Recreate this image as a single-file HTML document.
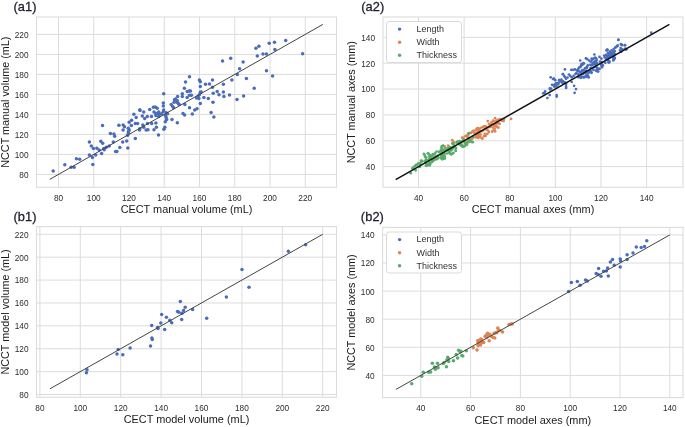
<!DOCTYPE html>
<html><head><meta charset="utf-8"><style>html,body{margin:0;padding:0;background:#fff;width:685px;height:427px;overflow:hidden;position:relative}</style></head>
<body><svg width="685" height="427" viewBox="0 0 685 427" style="position:absolute;left:0;top:0;filter:blur(0.3px)"><rect width="685" height="427" fill="#fff"/><g font-family="'Liberation Sans', sans-serif"><line x1="58.50" y1="17.0" x2="58.50" y2="187.3" stroke="#dcdcdc" stroke-width="1"/><line x1="93.75" y1="17.0" x2="93.75" y2="187.3" stroke="#dcdcdc" stroke-width="1"/><line x1="129.00" y1="17.0" x2="129.00" y2="187.3" stroke="#dcdcdc" stroke-width="1"/><line x1="164.25" y1="17.0" x2="164.25" y2="187.3" stroke="#dcdcdc" stroke-width="1"/><line x1="199.50" y1="17.0" x2="199.50" y2="187.3" stroke="#dcdcdc" stroke-width="1"/><line x1="234.75" y1="17.0" x2="234.75" y2="187.3" stroke="#dcdcdc" stroke-width="1"/><line x1="270.00" y1="17.0" x2="270.00" y2="187.3" stroke="#dcdcdc" stroke-width="1"/><line x1="305.25" y1="17.0" x2="305.25" y2="187.3" stroke="#dcdcdc" stroke-width="1"/><line x1="36.5" y1="174.40" x2="336.5" y2="174.40" stroke="#dcdcdc" stroke-width="1"/><line x1="36.5" y1="154.40" x2="336.5" y2="154.40" stroke="#dcdcdc" stroke-width="1"/><line x1="36.5" y1="134.40" x2="336.5" y2="134.40" stroke="#dcdcdc" stroke-width="1"/><line x1="36.5" y1="114.40" x2="336.5" y2="114.40" stroke="#dcdcdc" stroke-width="1"/><line x1="36.5" y1="94.40" x2="336.5" y2="94.40" stroke="#dcdcdc" stroke-width="1"/><line x1="36.5" y1="74.40" x2="336.5" y2="74.40" stroke="#dcdcdc" stroke-width="1"/><line x1="36.5" y1="54.40" x2="336.5" y2="54.40" stroke="#dcdcdc" stroke-width="1"/><line x1="36.5" y1="34.40" x2="336.5" y2="34.40" stroke="#dcdcdc" stroke-width="1"/><rect x="36.5" y="17.0" width="300.00" height="170.30" fill="none" stroke="#dcdcdc" stroke-width="1.1"/><circle cx="53.2" cy="171.1" r="1.75" fill="#4a6cbc"/><circle cx="64.8" cy="164.7" r="1.75" fill="#4a6cbc"/><circle cx="71.1" cy="167.2" r="1.75" fill="#4a6cbc"/><circle cx="74.1" cy="167.3" r="1.75" fill="#4a6cbc"/><circle cx="76.4" cy="158.7" r="1.75" fill="#4a6cbc"/><circle cx="79.7" cy="159.3" r="1.75" fill="#4a6cbc"/><circle cx="89.4" cy="142.0" r="1.75" fill="#4a6cbc"/><circle cx="91.3" cy="145.9" r="1.75" fill="#4a6cbc"/><circle cx="93.4" cy="148.5" r="1.75" fill="#4a6cbc"/><circle cx="89.4" cy="154.9" r="1.75" fill="#4a6cbc"/><circle cx="92.4" cy="157.6" r="1.75" fill="#4a6cbc"/><circle cx="92.8" cy="164.6" r="1.75" fill="#4a6cbc"/><circle cx="95.7" cy="155.0" r="1.75" fill="#4a6cbc"/><circle cx="96.9" cy="148.2" r="1.75" fill="#4a6cbc"/><circle cx="99.2" cy="150.0" r="1.75" fill="#4a6cbc"/><circle cx="101.6" cy="153.5" r="1.75" fill="#4a6cbc"/><circle cx="100.8" cy="141.2" r="1.75" fill="#4a6cbc"/><circle cx="102.7" cy="143.3" r="1.75" fill="#4a6cbc"/><circle cx="103.9" cy="148.4" r="1.75" fill="#4a6cbc"/><circle cx="106.3" cy="147.3" r="1.75" fill="#4a6cbc"/><circle cx="109.2" cy="146.1" r="1.75" fill="#4a6cbc"/><circle cx="113.3" cy="142.1" r="1.75" fill="#4a6cbc"/><circle cx="115.6" cy="151.4" r="1.75" fill="#4a6cbc"/><circle cx="102.5" cy="125.4" r="1.75" fill="#4a6cbc"/><circle cx="110.4" cy="133.4" r="1.75" fill="#4a6cbc"/><circle cx="113.9" cy="134.0" r="1.75" fill="#4a6cbc"/><circle cx="114.7" cy="136.3" r="1.75" fill="#4a6cbc"/><circle cx="119.8" cy="147.5" r="1.75" fill="#4a6cbc"/><circle cx="122.7" cy="141.9" r="1.75" fill="#4a6cbc"/><circle cx="126.7" cy="140.9" r="1.75" fill="#4a6cbc"/><circle cx="127.8" cy="148.0" r="1.75" fill="#4a6cbc"/><circle cx="118.9" cy="125.3" r="1.75" fill="#4a6cbc"/><circle cx="123.1" cy="125.0" r="1.75" fill="#4a6cbc"/><circle cx="124.5" cy="126.7" r="1.75" fill="#4a6cbc"/><circle cx="123.1" cy="130.0" r="1.75" fill="#4a6cbc"/><circle cx="128.3" cy="128.3" r="1.75" fill="#4a6cbc"/><circle cx="129.2" cy="130.1" r="1.75" fill="#4a6cbc"/><circle cx="128.5" cy="131.6" r="1.75" fill="#4a6cbc"/><circle cx="128.3" cy="133.0" r="1.75" fill="#4a6cbc"/><circle cx="127.6" cy="135.3" r="1.75" fill="#4a6cbc"/><circle cx="129.2" cy="122.2" r="1.75" fill="#4a6cbc"/><circle cx="131.6" cy="120.3" r="1.75" fill="#4a6cbc"/><circle cx="131.4" cy="125.5" r="1.75" fill="#4a6cbc"/><circle cx="133.9" cy="114.2" r="1.75" fill="#4a6cbc"/><circle cx="136.2" cy="117.5" r="1.75" fill="#4a6cbc"/><circle cx="135.3" cy="123.6" r="1.75" fill="#4a6cbc"/><circle cx="137.6" cy="123.6" r="1.75" fill="#4a6cbc"/><circle cx="135.3" cy="138.6" r="1.75" fill="#4a6cbc"/><circle cx="139.8" cy="128.7" r="1.75" fill="#4a6cbc"/><circle cx="139.5" cy="130.1" r="1.75" fill="#4a6cbc"/><circle cx="140.0" cy="110.5" r="1.75" fill="#4a6cbc"/><circle cx="143.7" cy="111.9" r="1.75" fill="#4a6cbc"/><circle cx="142.3" cy="116.1" r="1.75" fill="#4a6cbc"/><circle cx="144.7" cy="118.4" r="1.75" fill="#4a6cbc"/><circle cx="147.3" cy="116.6" r="1.75" fill="#4a6cbc"/><circle cx="142.8" cy="125.0" r="1.75" fill="#4a6cbc"/><circle cx="143.7" cy="127.3" r="1.75" fill="#4a6cbc"/><circle cx="147.5" cy="123.6" r="1.75" fill="#4a6cbc"/><circle cx="146.1" cy="130.1" r="1.75" fill="#4a6cbc"/><circle cx="148.0" cy="129.7" r="1.75" fill="#4a6cbc"/><circle cx="151.5" cy="116.6" r="1.75" fill="#4a6cbc"/><circle cx="151.7" cy="123.6" r="1.75" fill="#4a6cbc"/><circle cx="154.0" cy="111.9" r="1.75" fill="#4a6cbc"/><circle cx="155.9" cy="113.7" r="1.75" fill="#4a6cbc"/><circle cx="157.3" cy="113.3" r="1.75" fill="#4a6cbc"/><circle cx="158.7" cy="111.9" r="1.75" fill="#4a6cbc"/><circle cx="159.7" cy="114.2" r="1.75" fill="#4a6cbc"/><circle cx="161.5" cy="113.7" r="1.75" fill="#4a6cbc"/><circle cx="163.4" cy="111.4" r="1.75" fill="#4a6cbc"/><circle cx="165.3" cy="115.2" r="1.75" fill="#4a6cbc"/><circle cx="166.2" cy="112.8" r="1.75" fill="#4a6cbc"/><circle cx="167.6" cy="113.7" r="1.75" fill="#4a6cbc"/><circle cx="155.9" cy="115.6" r="1.75" fill="#4a6cbc"/><circle cx="158.7" cy="116.6" r="1.75" fill="#4a6cbc"/><circle cx="166.2" cy="117.5" r="1.75" fill="#4a6cbc"/><circle cx="166.7" cy="119.4" r="1.75" fill="#4a6cbc"/><circle cx="165.3" cy="121.7" r="1.75" fill="#4a6cbc"/><circle cx="155.9" cy="123.1" r="1.75" fill="#4a6cbc"/><circle cx="156.4" cy="127.3" r="1.75" fill="#4a6cbc"/><circle cx="154.0" cy="129.7" r="1.75" fill="#4a6cbc"/><circle cx="164.8" cy="127.3" r="1.75" fill="#4a6cbc"/><circle cx="163.9" cy="129.2" r="1.75" fill="#4a6cbc"/><circle cx="158.5" cy="135.1" r="1.75" fill="#4a6cbc"/><circle cx="104.2" cy="149.7" r="1.75" fill="#4a6cbc"/><circle cx="116.9" cy="151.6" r="1.75" fill="#4a6cbc"/><circle cx="163.7" cy="93.7" r="1.75" fill="#4a6cbc"/><circle cx="163.3" cy="103.1" r="1.75" fill="#4a6cbc"/><circle cx="163.3" cy="105.9" r="1.75" fill="#4a6cbc"/><circle cx="163.7" cy="110.1" r="1.75" fill="#4a6cbc"/><circle cx="172.0" cy="119.5" r="1.75" fill="#4a6cbc"/><circle cx="177.3" cy="122.8" r="1.75" fill="#4a6cbc"/><circle cx="171.2" cy="104.5" r="1.75" fill="#4a6cbc"/><circle cx="172.7" cy="106.4" r="1.75" fill="#4a6cbc"/><circle cx="173.6" cy="107.8" r="1.75" fill="#4a6cbc"/><circle cx="174.5" cy="99.8" r="1.75" fill="#4a6cbc"/><circle cx="175.5" cy="98.9" r="1.75" fill="#4a6cbc"/><circle cx="177.3" cy="100.8" r="1.75" fill="#4a6cbc"/><circle cx="176.9" cy="102.2" r="1.75" fill="#4a6cbc"/><circle cx="178.3" cy="103.6" r="1.75" fill="#4a6cbc"/><circle cx="179.2" cy="104.5" r="1.75" fill="#4a6cbc"/><circle cx="174.1" cy="102.2" r="1.75" fill="#4a6cbc"/><circle cx="177.6" cy="96.6" r="1.75" fill="#4a6cbc"/><circle cx="182.3" cy="93.7" r="1.75" fill="#4a6cbc"/><circle cx="182.3" cy="96.6" r="1.75" fill="#4a6cbc"/><circle cx="184.8" cy="104.5" r="1.75" fill="#4a6cbc"/><circle cx="183.0" cy="113.4" r="1.75" fill="#4a6cbc"/><circle cx="184.6" cy="115.1" r="1.75" fill="#4a6cbc"/><circle cx="187.2" cy="91.4" r="1.75" fill="#4a6cbc"/><circle cx="189.1" cy="90.9" r="1.75" fill="#4a6cbc"/><circle cx="190.5" cy="90.9" r="1.75" fill="#4a6cbc"/><circle cx="187.2" cy="97.5" r="1.75" fill="#4a6cbc"/><circle cx="189.5" cy="95.2" r="1.75" fill="#4a6cbc"/><circle cx="191.4" cy="95.2" r="1.75" fill="#4a6cbc"/><circle cx="189.5" cy="107.8" r="1.75" fill="#4a6cbc"/><circle cx="192.3" cy="113.9" r="1.75" fill="#4a6cbc"/><circle cx="194.7" cy="110.1" r="1.75" fill="#4a6cbc"/><circle cx="197.0" cy="108.7" r="1.75" fill="#4a6cbc"/><circle cx="196.6" cy="98.0" r="1.75" fill="#4a6cbc"/><circle cx="198.9" cy="98.4" r="1.75" fill="#4a6cbc"/><circle cx="198.0" cy="96.6" r="1.75" fill="#4a6cbc"/><circle cx="199.4" cy="94.7" r="1.75" fill="#4a6cbc"/><circle cx="200.3" cy="92.3" r="1.75" fill="#4a6cbc"/><circle cx="201.2" cy="91.9" r="1.75" fill="#4a6cbc"/><circle cx="200.3" cy="103.6" r="1.75" fill="#4a6cbc"/><circle cx="203.9" cy="97.5" r="1.75" fill="#4a6cbc"/><circle cx="208.3" cy="98.4" r="1.75" fill="#4a6cbc"/><circle cx="213.0" cy="102.2" r="1.75" fill="#4a6cbc"/><circle cx="213.2" cy="93.3" r="1.75" fill="#4a6cbc"/><circle cx="217.2" cy="91.4" r="1.75" fill="#4a6cbc"/><circle cx="219.0" cy="94.7" r="1.75" fill="#4a6cbc"/><circle cx="211.1" cy="112.5" r="1.75" fill="#4a6cbc"/><circle cx="213.9" cy="117.0" r="1.75" fill="#4a6cbc"/><circle cx="189.5" cy="76.7" r="1.75" fill="#4a6cbc"/><circle cx="185.5" cy="82.0" r="1.75" fill="#4a6cbc"/><circle cx="184.4" cy="88.3" r="1.75" fill="#4a6cbc"/><circle cx="199.4" cy="80.1" r="1.75" fill="#4a6cbc"/><circle cx="200.3" cy="81.7" r="1.75" fill="#4a6cbc"/><circle cx="200.3" cy="86.4" r="1.75" fill="#4a6cbc"/><circle cx="205.5" cy="84.3" r="1.75" fill="#4a6cbc"/><circle cx="209.5" cy="83.9" r="1.75" fill="#4a6cbc"/><circle cx="212.5" cy="80.1" r="1.75" fill="#4a6cbc"/><circle cx="212.5" cy="87.3" r="1.75" fill="#4a6cbc"/><circle cx="222.5" cy="61.1" r="1.75" fill="#4a6cbc"/><circle cx="243.1" cy="62.1" r="1.75" fill="#4a6cbc"/><circle cx="239.6" cy="68.7" r="1.75" fill="#4a6cbc"/><circle cx="237.3" cy="74.5" r="1.75" fill="#4a6cbc"/><circle cx="231.9" cy="80.0" r="1.75" fill="#4a6cbc"/><circle cx="246.4" cy="78.6" r="1.75" fill="#4a6cbc"/><circle cx="223.4" cy="84.2" r="1.75" fill="#4a6cbc"/><circle cx="266.5" cy="70.8" r="1.75" fill="#4a6cbc"/><circle cx="272.6" cy="76.1" r="1.75" fill="#4a6cbc"/><circle cx="254.2" cy="88.3" r="1.75" fill="#4a6cbc"/><circle cx="223.4" cy="91.9" r="1.75" fill="#4a6cbc"/><circle cx="223.9" cy="96.4" r="1.75" fill="#4a6cbc"/><circle cx="229.5" cy="95.1" r="1.75" fill="#4a6cbc"/><circle cx="243.6" cy="96.1" r="1.75" fill="#4a6cbc"/><circle cx="237.0" cy="99.6" r="1.75" fill="#4a6cbc"/><circle cx="258.9" cy="46.2" r="1.75" fill="#4a6cbc"/><circle cx="255.9" cy="48.3" r="1.75" fill="#4a6cbc"/><circle cx="257.3" cy="56.1" r="1.75" fill="#4a6cbc"/><circle cx="263.0" cy="54.0" r="1.75" fill="#4a6cbc"/><circle cx="266.5" cy="54.0" r="1.75" fill="#4a6cbc"/><circle cx="269.2" cy="43.2" r="1.75" fill="#4a6cbc"/><circle cx="274.5" cy="42.2" r="1.75" fill="#4a6cbc"/><circle cx="274.9" cy="49.5" r="1.75" fill="#4a6cbc"/><circle cx="285.7" cy="40.6" r="1.75" fill="#4a6cbc"/><circle cx="302.6" cy="53.7" r="1.75" fill="#4a6cbc"/><circle cx="230.7" cy="58.3" r="1.75" fill="#4a6cbc"/><circle cx="139.8" cy="109.7" r="1.75" fill="#4a6cbc"/><circle cx="149.7" cy="109.4" r="1.75" fill="#4a6cbc"/><circle cx="153.4" cy="107.3" r="1.75" fill="#4a6cbc"/><circle cx="155.3" cy="106.9" r="1.75" fill="#4a6cbc"/><circle cx="157.2" cy="108.3" r="1.75" fill="#4a6cbc"/><line x1="49.69" y1="179.40" x2="322.88" y2="24.40" stroke="#444" stroke-width="1.0"/><text transform="translate(58.50 201.00) scale(0.9 1)" text-anchor="middle" font-size="9.2" fill="#2c2c2c">80</text><text transform="translate(93.75 201.00) scale(0.9 1)" text-anchor="middle" font-size="9.2" fill="#2c2c2c">100</text><text transform="translate(129.00 201.00) scale(0.9 1)" text-anchor="middle" font-size="9.2" fill="#2c2c2c">120</text><text transform="translate(164.25 201.00) scale(0.9 1)" text-anchor="middle" font-size="9.2" fill="#2c2c2c">140</text><text transform="translate(199.50 201.00) scale(0.9 1)" text-anchor="middle" font-size="9.2" fill="#2c2c2c">160</text><text transform="translate(234.75 201.00) scale(0.9 1)" text-anchor="middle" font-size="9.2" fill="#2c2c2c">180</text><text transform="translate(270.00 201.00) scale(0.9 1)" text-anchor="middle" font-size="9.2" fill="#2c2c2c">200</text><text transform="translate(305.25 201.00) scale(0.9 1)" text-anchor="middle" font-size="9.2" fill="#2c2c2c">220</text><text transform="translate(28.50 177.80) scale(0.9 1)" text-anchor="end" font-size="9.2" fill="#2c2c2c">80</text><text transform="translate(28.50 157.80) scale(0.9 1)" text-anchor="end" font-size="9.2" fill="#2c2c2c">100</text><text transform="translate(28.50 137.80) scale(0.9 1)" text-anchor="end" font-size="9.2" fill="#2c2c2c">120</text><text transform="translate(28.50 117.80) scale(0.9 1)" text-anchor="end" font-size="9.2" fill="#2c2c2c">140</text><text transform="translate(28.50 97.80) scale(0.9 1)" text-anchor="end" font-size="9.2" fill="#2c2c2c">160</text><text transform="translate(28.50 77.80) scale(0.9 1)" text-anchor="end" font-size="9.2" fill="#2c2c2c">180</text><text transform="translate(28.50 57.80) scale(0.9 1)" text-anchor="end" font-size="9.2" fill="#2c2c2c">200</text><text transform="translate(28.50 37.80) scale(0.9 1)" text-anchor="end" font-size="9.2" fill="#2c2c2c">220</text><text x="186.50" y="213.30" text-anchor="middle" font-size="10.9" fill="#1a1a1a">CECT manual volume (mL)</text><text transform="translate(8.50,102.15) rotate(-90)" text-anchor="middle" font-size="10.8" fill="#1a1a1a">NCCT manual volume (mL)</text><text x="13.5" y="10.6" font-size="12.8" letter-spacing="0.1" fill="#1e1e2e" stroke="#1e1e2e" stroke-width="0.3">(a1)</text></g><g font-family="'Liberation Sans', sans-serif"><line x1="418.50" y1="17.0" x2="418.50" y2="187.3" stroke="#dcdcdc" stroke-width="1"/><line x1="464.12" y1="17.0" x2="464.12" y2="187.3" stroke="#dcdcdc" stroke-width="1"/><line x1="509.74" y1="17.0" x2="509.74" y2="187.3" stroke="#dcdcdc" stroke-width="1"/><line x1="555.36" y1="17.0" x2="555.36" y2="187.3" stroke="#dcdcdc" stroke-width="1"/><line x1="600.98" y1="17.0" x2="600.98" y2="187.3" stroke="#dcdcdc" stroke-width="1"/><line x1="646.60" y1="17.0" x2="646.60" y2="187.3" stroke="#dcdcdc" stroke-width="1"/><line x1="383.0" y1="166.60" x2="683.0" y2="166.60" stroke="#dcdcdc" stroke-width="1"/><line x1="383.0" y1="140.75" x2="683.0" y2="140.75" stroke="#dcdcdc" stroke-width="1"/><line x1="383.0" y1="114.90" x2="683.0" y2="114.90" stroke="#dcdcdc" stroke-width="1"/><line x1="383.0" y1="89.05" x2="683.0" y2="89.05" stroke="#dcdcdc" stroke-width="1"/><line x1="383.0" y1="63.20" x2="683.0" y2="63.20" stroke="#dcdcdc" stroke-width="1"/><line x1="383.0" y1="37.35" x2="683.0" y2="37.35" stroke="#dcdcdc" stroke-width="1"/><rect x="383.0" y="17.0" width="300.00" height="170.30" fill="none" stroke="#dcdcdc" stroke-width="1.1"/><circle cx="543.2" cy="93.3" r="1.35" fill="#4a6cbc"/><circle cx="544.6" cy="92.8" r="1.35" fill="#4a6cbc"/><circle cx="547.4" cy="98.0" r="1.35" fill="#4a6cbc"/><circle cx="549.7" cy="95.1" r="1.35" fill="#4a6cbc"/><circle cx="556.7" cy="96.6" r="1.35" fill="#4a6cbc"/><circle cx="550.2" cy="89.5" r="1.35" fill="#4a6cbc"/><circle cx="551.1" cy="88.6" r="1.35" fill="#4a6cbc"/><circle cx="550.7" cy="77.3" r="1.35" fill="#4a6cbc"/><circle cx="553.9" cy="78.7" r="1.35" fill="#4a6cbc"/><circle cx="555.3" cy="80.2" r="1.35" fill="#4a6cbc"/><circle cx="552.1" cy="84.8" r="1.35" fill="#4a6cbc"/><circle cx="553.5" cy="85.3" r="1.35" fill="#4a6cbc"/><circle cx="554.9" cy="84.4" r="1.35" fill="#4a6cbc"/><circle cx="554.4" cy="86.7" r="1.35" fill="#4a6cbc"/><circle cx="556.3" cy="86.2" r="1.35" fill="#4a6cbc"/><circle cx="555.8" cy="83.4" r="1.35" fill="#4a6cbc"/><circle cx="557.2" cy="83.0" r="1.35" fill="#4a6cbc"/><circle cx="558.2" cy="84.4" r="1.35" fill="#4a6cbc"/><circle cx="559.1" cy="82.5" r="1.35" fill="#4a6cbc"/><circle cx="560.5" cy="81.1" r="1.35" fill="#4a6cbc"/><circle cx="559.6" cy="80.2" r="1.35" fill="#4a6cbc"/><circle cx="561.4" cy="79.7" r="1.35" fill="#4a6cbc"/><circle cx="561.9" cy="82.5" r="1.35" fill="#4a6cbc"/><circle cx="562.8" cy="81.1" r="1.35" fill="#4a6cbc"/><circle cx="563.3" cy="83.0" r="1.35" fill="#4a6cbc"/><circle cx="564.2" cy="82.0" r="1.35" fill="#4a6cbc"/><circle cx="562.8" cy="74.1" r="1.35" fill="#4a6cbc"/><circle cx="564.2" cy="75.9" r="1.35" fill="#4a6cbc"/><circle cx="565.2" cy="77.3" r="1.35" fill="#4a6cbc"/><circle cx="566.1" cy="78.7" r="1.35" fill="#4a6cbc"/><circle cx="564.9" cy="69.4" r="1.35" fill="#4a6cbc"/><circle cx="566.1" cy="83.9" r="1.35" fill="#4a6cbc"/><circle cx="566.1" cy="87.9" r="1.35" fill="#4a6cbc"/><circle cx="568.9" cy="74.5" r="1.35" fill="#4a6cbc"/><circle cx="570.3" cy="75.9" r="1.35" fill="#4a6cbc"/><circle cx="571.3" cy="69.8" r="1.35" fill="#4a6cbc"/><circle cx="573.1" cy="69.8" r="1.35" fill="#4a6cbc"/><circle cx="575.0" cy="69.4" r="1.35" fill="#4a6cbc"/><circle cx="571.7" cy="82.0" r="1.35" fill="#4a6cbc"/><circle cx="574.1" cy="85.8" r="1.35" fill="#4a6cbc"/><circle cx="576.0" cy="89.1" r="1.35" fill="#4a6cbc"/><circle cx="574.6" cy="92.8" r="1.35" fill="#4a6cbc"/><circle cx="571.7" cy="77.3" r="1.35" fill="#4a6cbc"/><circle cx="573.6" cy="75.9" r="1.35" fill="#4a6cbc"/><circle cx="575.5" cy="74.1" r="1.35" fill="#4a6cbc"/><circle cx="576.4" cy="73.1" r="1.35" fill="#4a6cbc"/><circle cx="576.9" cy="70.3" r="1.35" fill="#4a6cbc"/><circle cx="578.3" cy="68.9" r="1.35" fill="#4a6cbc"/><circle cx="579.2" cy="67.5" r="1.35" fill="#4a6cbc"/><circle cx="580.6" cy="66.6" r="1.35" fill="#4a6cbc"/><circle cx="581.6" cy="65.2" r="1.35" fill="#4a6cbc"/><circle cx="583.0" cy="64.2" r="1.35" fill="#4a6cbc"/><circle cx="583.9" cy="63.3" r="1.35" fill="#4a6cbc"/><circle cx="580.2" cy="60.5" r="1.35" fill="#4a6cbc"/><circle cx="578.3" cy="76.9" r="1.35" fill="#4a6cbc"/><circle cx="580.2" cy="77.3" r="1.35" fill="#4a6cbc"/><circle cx="582.0" cy="76.9" r="1.35" fill="#4a6cbc"/><circle cx="583.9" cy="77.3" r="1.35" fill="#4a6cbc"/><circle cx="585.8" cy="76.9" r="1.35" fill="#4a6cbc"/><circle cx="586.7" cy="75.5" r="1.35" fill="#4a6cbc"/><circle cx="578.3" cy="74.1" r="1.35" fill="#4a6cbc"/><circle cx="580.2" cy="72.2" r="1.35" fill="#4a6cbc"/><circle cx="582.0" cy="71.2" r="1.35" fill="#4a6cbc"/><circle cx="583.9" cy="70.3" r="1.35" fill="#4a6cbc"/><circle cx="584.9" cy="68.4" r="1.35" fill="#4a6cbc"/><circle cx="586.3" cy="67.5" r="1.35" fill="#4a6cbc"/><circle cx="587.2" cy="66.6" r="1.35" fill="#4a6cbc"/><circle cx="581.1" cy="74.5" r="1.35" fill="#4a6cbc"/><circle cx="583.0" cy="74.1" r="1.35" fill="#4a6cbc"/><circle cx="584.9" cy="73.1" r="1.35" fill="#4a6cbc"/><circle cx="586.7" cy="72.2" r="1.35" fill="#4a6cbc"/><circle cx="585.9" cy="58.3" r="1.35" fill="#4a6cbc"/><circle cx="594.4" cy="54.5" r="1.35" fill="#4a6cbc"/><circle cx="587.8" cy="65.3" r="1.35" fill="#4a6cbc"/><circle cx="586.9" cy="68.1" r="1.35" fill="#4a6cbc"/><circle cx="585.9" cy="70.9" r="1.35" fill="#4a6cbc"/><circle cx="588.7" cy="72.8" r="1.35" fill="#4a6cbc"/><circle cx="587.8" cy="75.6" r="1.35" fill="#4a6cbc"/><circle cx="588.7" cy="77.5" r="1.35" fill="#4a6cbc"/><circle cx="590.6" cy="61.6" r="1.35" fill="#4a6cbc"/><circle cx="592.0" cy="60.1" r="1.35" fill="#4a6cbc"/><circle cx="593.4" cy="58.7" r="1.35" fill="#4a6cbc"/><circle cx="594.8" cy="57.8" r="1.35" fill="#4a6cbc"/><circle cx="596.2" cy="58.3" r="1.35" fill="#4a6cbc"/><circle cx="592.5" cy="63.0" r="1.35" fill="#4a6cbc"/><circle cx="593.9" cy="62.0" r="1.35" fill="#4a6cbc"/><circle cx="595.3" cy="61.1" r="1.35" fill="#4a6cbc"/><circle cx="596.7" cy="60.1" r="1.35" fill="#4a6cbc"/><circle cx="591.6" cy="65.3" r="1.35" fill="#4a6cbc"/><circle cx="593.0" cy="64.4" r="1.35" fill="#4a6cbc"/><circle cx="594.4" cy="63.9" r="1.35" fill="#4a6cbc"/><circle cx="595.8" cy="63.4" r="1.35" fill="#4a6cbc"/><circle cx="597.2" cy="63.0" r="1.35" fill="#4a6cbc"/><circle cx="590.6" cy="68.1" r="1.35" fill="#4a6cbc"/><circle cx="592.5" cy="68.1" r="1.35" fill="#4a6cbc"/><circle cx="594.4" cy="67.2" r="1.35" fill="#4a6cbc"/><circle cx="596.2" cy="66.7" r="1.35" fill="#4a6cbc"/><circle cx="597.2" cy="68.1" r="1.35" fill="#4a6cbc"/><circle cx="590.6" cy="70.9" r="1.35" fill="#4a6cbc"/><circle cx="593.4" cy="70.0" r="1.35" fill="#4a6cbc"/><circle cx="595.8" cy="70.5" r="1.35" fill="#4a6cbc"/><circle cx="597.2" cy="70.0" r="1.35" fill="#4a6cbc"/><circle cx="591.6" cy="72.8" r="1.35" fill="#4a6cbc"/><circle cx="599.5" cy="56.9" r="1.35" fill="#4a6cbc"/><circle cx="601.4" cy="58.7" r="1.35" fill="#4a6cbc"/><circle cx="600.0" cy="61.6" r="1.35" fill="#4a6cbc"/><circle cx="601.9" cy="62.5" r="1.35" fill="#4a6cbc"/><circle cx="602.8" cy="65.3" r="1.35" fill="#4a6cbc"/><circle cx="601.4" cy="65.8" r="1.35" fill="#4a6cbc"/><circle cx="604.2" cy="55.5" r="1.35" fill="#4a6cbc"/><circle cx="604.7" cy="57.3" r="1.35" fill="#4a6cbc"/><circle cx="606.1" cy="59.2" r="1.35" fill="#4a6cbc"/><circle cx="608.0" cy="60.6" r="1.35" fill="#4a6cbc"/><circle cx="609.4" cy="62.0" r="1.35" fill="#4a6cbc"/><circle cx="607.0" cy="55.9" r="1.35" fill="#4a6cbc"/><circle cx="608.9" cy="55.0" r="1.35" fill="#4a6cbc"/><circle cx="610.3" cy="54.1" r="1.35" fill="#4a6cbc"/><circle cx="611.7" cy="53.1" r="1.35" fill="#4a6cbc"/><circle cx="613.1" cy="52.2" r="1.35" fill="#4a6cbc"/><circle cx="611.2" cy="55.5" r="1.35" fill="#4a6cbc"/><circle cx="613.1" cy="55.5" r="1.35" fill="#4a6cbc"/><circle cx="614.1" cy="57.3" r="1.35" fill="#4a6cbc"/><circle cx="614.5" cy="58.7" r="1.35" fill="#4a6cbc"/><circle cx="615.0" cy="54.1" r="1.35" fill="#4a6cbc"/><circle cx="606.6" cy="50.3" r="1.35" fill="#4a6cbc"/><circle cx="608.0" cy="53.1" r="1.35" fill="#4a6cbc"/><circle cx="609.8" cy="51.7" r="1.35" fill="#4a6cbc"/><circle cx="615.5" cy="47.5" r="1.35" fill="#4a6cbc"/><circle cx="617.3" cy="46.1" r="1.35" fill="#4a6cbc"/><circle cx="618.3" cy="40.0" r="1.35" fill="#4a6cbc"/><circle cx="620.6" cy="48.0" r="1.35" fill="#4a6cbc"/><circle cx="622.0" cy="45.2" r="1.35" fill="#4a6cbc"/><circle cx="624.8" cy="45.2" r="1.35" fill="#4a6cbc"/><circle cx="622.5" cy="49.4" r="1.35" fill="#4a6cbc"/><circle cx="620.1" cy="50.3" r="1.35" fill="#4a6cbc"/><circle cx="626.2" cy="49.4" r="1.35" fill="#4a6cbc"/><circle cx="651.2" cy="32.7" r="1.35" fill="#4a6cbc"/><circle cx="618.4" cy="39.7" r="1.35" fill="#4a6cbc"/><circle cx="615.3" cy="47.5" r="1.35" fill="#4a6cbc"/><circle cx="616.7" cy="46.4" r="1.35" fill="#4a6cbc"/><circle cx="617.7" cy="45.4" r="1.35" fill="#4a6cbc"/><circle cx="621.9" cy="44.9" r="1.35" fill="#4a6cbc"/><circle cx="625.1" cy="45.2" r="1.35" fill="#4a6cbc"/><circle cx="620.5" cy="50.3" r="1.35" fill="#4a6cbc"/><circle cx="621.9" cy="49.6" r="1.35" fill="#4a6cbc"/><circle cx="626.1" cy="49.2" r="1.35" fill="#4a6cbc"/><circle cx="606.9" cy="50.3" r="1.35" fill="#4a6cbc"/><circle cx="611.6" cy="50.3" r="1.35" fill="#4a6cbc"/><circle cx="613.4" cy="51.7" r="1.35" fill="#4a6cbc"/><circle cx="610.6" cy="53.1" r="1.35" fill="#4a6cbc"/><circle cx="613.0" cy="53.1" r="1.35" fill="#4a6cbc"/><circle cx="608.7" cy="55.0" r="1.35" fill="#4a6cbc"/><circle cx="611.6" cy="55.5" r="1.35" fill="#4a6cbc"/><circle cx="613.9" cy="55.0" r="1.35" fill="#4a6cbc"/><circle cx="607.8" cy="57.3" r="1.35" fill="#4a6cbc"/><circle cx="609.7" cy="57.3" r="1.35" fill="#4a6cbc"/><circle cx="613.0" cy="57.3" r="1.35" fill="#4a6cbc"/><circle cx="614.4" cy="58.3" r="1.35" fill="#4a6cbc"/><circle cx="606.4" cy="59.7" r="1.35" fill="#4a6cbc"/><circle cx="609.2" cy="61.1" r="1.35" fill="#4a6cbc"/><circle cx="613.4" cy="59.7" r="1.35" fill="#4a6cbc"/><circle cx="608.7" cy="62.5" r="1.35" fill="#4a6cbc"/><circle cx="580.9" cy="77.8" r="1.35" fill="#4a6cbc"/><circle cx="583.7" cy="77.3" r="1.35" fill="#4a6cbc"/><circle cx="588.4" cy="76.9" r="1.35" fill="#4a6cbc"/><circle cx="591.2" cy="72.2" r="1.35" fill="#4a6cbc"/><circle cx="596.9" cy="71.2" r="1.35" fill="#4a6cbc"/><circle cx="598.7" cy="68.9" r="1.35" fill="#4a6cbc"/><circle cx="602.5" cy="65.6" r="1.35" fill="#4a6cbc"/><circle cx="605.3" cy="62.8" r="1.35" fill="#4a6cbc"/><circle cx="609.0" cy="62.3" r="1.35" fill="#4a6cbc"/><circle cx="613.3" cy="60.5" r="1.35" fill="#4a6cbc"/><circle cx="545.1" cy="91.4" r="1.35" fill="#4a6cbc"/><circle cx="556.7" cy="95.1" r="1.35" fill="#4a6cbc"/><circle cx="549.8" cy="88.4" r="1.35" fill="#4a6cbc"/><circle cx="553.0" cy="79.1" r="1.35" fill="#4a6cbc"/><circle cx="555.5" cy="86.0" r="1.35" fill="#4a6cbc"/><circle cx="555.1" cy="85.6" r="1.35" fill="#4a6cbc"/><circle cx="557.5" cy="83.4" r="1.35" fill="#4a6cbc"/><circle cx="559.1" cy="80.2" r="1.35" fill="#4a6cbc"/><circle cx="565.1" cy="82.6" r="1.35" fill="#4a6cbc"/><circle cx="563.0" cy="74.2" r="1.35" fill="#4a6cbc"/><circle cx="567.6" cy="77.5" r="1.35" fill="#4a6cbc"/><circle cx="566.1" cy="86.4" r="1.35" fill="#4a6cbc"/><circle cx="577.5" cy="70.8" r="1.35" fill="#4a6cbc"/><circle cx="580.2" cy="67.1" r="1.35" fill="#4a6cbc"/><circle cx="581.5" cy="64.1" r="1.35" fill="#4a6cbc"/><circle cx="581.6" cy="65.1" r="1.35" fill="#4a6cbc"/><circle cx="583.1" cy="63.0" r="1.35" fill="#4a6cbc"/><circle cx="578.1" cy="77.1" r="1.35" fill="#4a6cbc"/><circle cx="585.5" cy="76.4" r="1.35" fill="#4a6cbc"/><circle cx="579.2" cy="71.3" r="1.35" fill="#4a6cbc"/><circle cx="582.0" cy="71.5" r="1.35" fill="#4a6cbc"/><circle cx="582.3" cy="70.0" r="1.35" fill="#4a6cbc"/><circle cx="587.2" cy="59.2" r="1.35" fill="#4a6cbc"/><circle cx="589.1" cy="71.4" r="1.35" fill="#4a6cbc"/><circle cx="586.9" cy="74.5" r="1.35" fill="#4a6cbc"/><circle cx="589.0" cy="60.5" r="1.35" fill="#4a6cbc"/><circle cx="591.6" cy="58.6" r="1.35" fill="#4a6cbc"/><circle cx="595.4" cy="57.8" r="1.35" fill="#4a6cbc"/><circle cx="595.0" cy="63.6" r="1.35" fill="#4a6cbc"/><circle cx="590.3" cy="64.8" r="1.35" fill="#4a6cbc"/><circle cx="594.1" cy="63.3" r="1.35" fill="#4a6cbc"/><circle cx="595.8" cy="64.0" r="1.35" fill="#4a6cbc"/><circle cx="595.9" cy="61.9" r="1.35" fill="#4a6cbc"/><circle cx="595.8" cy="65.6" r="1.35" fill="#4a6cbc"/><circle cx="598.2" cy="71.6" r="1.35" fill="#4a6cbc"/><circle cx="602.0" cy="62.0" r="1.35" fill="#4a6cbc"/><circle cx="601.3" cy="64.6" r="1.35" fill="#4a6cbc"/><circle cx="602.0" cy="67.3" r="1.35" fill="#4a6cbc"/><circle cx="606.1" cy="54.9" r="1.35" fill="#4a6cbc"/><circle cx="609.3" cy="56.3" r="1.35" fill="#4a6cbc"/><circle cx="613.6" cy="56.8" r="1.35" fill="#4a6cbc"/><circle cx="607.5" cy="49.8" r="1.35" fill="#4a6cbc"/><circle cx="620.8" cy="44.1" r="1.35" fill="#4a6cbc"/><circle cx="621.1" cy="51.8" r="1.35" fill="#4a6cbc"/><circle cx="613.7" cy="49.0" r="1.35" fill="#4a6cbc"/><circle cx="625.3" cy="48.5" r="1.35" fill="#4a6cbc"/><circle cx="607.2" cy="49.5" r="1.35" fill="#4a6cbc"/><circle cx="614.7" cy="51.2" r="1.35" fill="#4a6cbc"/><circle cx="614.2" cy="57.3" r="1.35" fill="#4a6cbc"/><circle cx="607.4" cy="58.7" r="1.35" fill="#4a6cbc"/><circle cx="597.1" cy="70.4" r="1.35" fill="#4a6cbc"/><circle cx="599.6" cy="68.9" r="1.35" fill="#4a6cbc"/><circle cx="444.9" cy="146.7" r="1.35" fill="#dd8452"/><circle cx="448.2" cy="145.5" r="1.35" fill="#dd8452"/><circle cx="452.3" cy="140.2" r="1.35" fill="#dd8452"/><circle cx="453.5" cy="142.2" r="1.35" fill="#dd8452"/><circle cx="454.3" cy="143.0" r="1.35" fill="#dd8452"/><circle cx="462.1" cy="137.7" r="1.35" fill="#dd8452"/><circle cx="463.4" cy="138.5" r="1.35" fill="#dd8452"/><circle cx="464.6" cy="136.5" r="1.35" fill="#dd8452"/><circle cx="466.2" cy="135.7" r="1.35" fill="#dd8452"/><circle cx="467.5" cy="136.9" r="1.35" fill="#dd8452"/><circle cx="468.3" cy="134.8" r="1.35" fill="#dd8452"/><circle cx="469.5" cy="133.2" r="1.35" fill="#dd8452"/><circle cx="471.1" cy="132.8" r="1.35" fill="#dd8452"/><circle cx="472.4" cy="131.6" r="1.35" fill="#dd8452"/><circle cx="473.6" cy="130.7" r="1.35" fill="#dd8452"/><circle cx="474.4" cy="133.2" r="1.35" fill="#dd8452"/><circle cx="476.1" cy="134.8" r="1.35" fill="#dd8452"/><circle cx="476.5" cy="129.1" r="1.35" fill="#dd8452"/><circle cx="477.7" cy="128.3" r="1.35" fill="#dd8452"/><circle cx="478.5" cy="130.7" r="1.35" fill="#dd8452"/><circle cx="479.3" cy="133.2" r="1.35" fill="#dd8452"/><circle cx="478.9" cy="136.5" r="1.35" fill="#dd8452"/><circle cx="476.1" cy="137.3" r="1.35" fill="#dd8452"/><circle cx="472.8" cy="136.5" r="1.35" fill="#dd8452"/><circle cx="472.0" cy="138.9" r="1.35" fill="#dd8452"/><circle cx="469.5" cy="138.1" r="1.35" fill="#dd8452"/><circle cx="467.5" cy="141.4" r="1.35" fill="#dd8452"/><circle cx="468.3" cy="142.2" r="1.35" fill="#dd8452"/><circle cx="462.1" cy="144.7" r="1.35" fill="#dd8452"/><circle cx="511.1" cy="118.9" r="1.35" fill="#dd8452"/><circle cx="495.1" cy="118.2" r="1.35" fill="#dd8452"/><circle cx="493.0" cy="120.7" r="1.35" fill="#dd8452"/><circle cx="491.4" cy="122.3" r="1.35" fill="#dd8452"/><circle cx="494.3" cy="121.5" r="1.35" fill="#dd8452"/><circle cx="496.3" cy="120.7" r="1.35" fill="#dd8452"/><circle cx="498.0" cy="119.8" r="1.35" fill="#dd8452"/><circle cx="499.6" cy="119.0" r="1.35" fill="#dd8452"/><circle cx="501.2" cy="119.4" r="1.35" fill="#dd8452"/><circle cx="502.9" cy="119.8" r="1.35" fill="#dd8452"/><circle cx="504.1" cy="119.0" r="1.35" fill="#dd8452"/><circle cx="503.7" cy="121.1" r="1.35" fill="#dd8452"/><circle cx="502.0" cy="120.7" r="1.35" fill="#dd8452"/><circle cx="487.7" cy="121.1" r="1.35" fill="#dd8452"/><circle cx="488.9" cy="123.9" r="1.35" fill="#dd8452"/><circle cx="490.6" cy="124.8" r="1.35" fill="#dd8452"/><circle cx="492.2" cy="123.9" r="1.35" fill="#dd8452"/><circle cx="493.9" cy="125.2" r="1.35" fill="#dd8452"/><circle cx="495.5" cy="123.9" r="1.35" fill="#dd8452"/><circle cx="497.1" cy="123.1" r="1.35" fill="#dd8452"/><circle cx="498.8" cy="123.5" r="1.35" fill="#dd8452"/><circle cx="499.6" cy="123.9" r="1.35" fill="#dd8452"/><circle cx="495.5" cy="126.4" r="1.35" fill="#dd8452"/><circle cx="497.5" cy="127.2" r="1.35" fill="#dd8452"/><circle cx="498.4" cy="127.6" r="1.35" fill="#dd8452"/><circle cx="496.3" cy="125.6" r="1.35" fill="#dd8452"/><circle cx="493.0" cy="127.6" r="1.35" fill="#dd8452"/><circle cx="494.7" cy="128.9" r="1.35" fill="#dd8452"/><circle cx="493.0" cy="130.5" r="1.35" fill="#dd8452"/><circle cx="495.1" cy="131.3" r="1.35" fill="#dd8452"/><circle cx="492.2" cy="131.7" r="1.35" fill="#dd8452"/><circle cx="477.5" cy="128.0" r="1.35" fill="#dd8452"/><circle cx="479.1" cy="128.9" r="1.35" fill="#dd8452"/><circle cx="480.7" cy="128.0" r="1.35" fill="#dd8452"/><circle cx="482.4" cy="127.2" r="1.35" fill="#dd8452"/><circle cx="484.0" cy="126.4" r="1.35" fill="#dd8452"/><circle cx="485.7" cy="126.4" r="1.35" fill="#dd8452"/><circle cx="487.3" cy="127.6" r="1.35" fill="#dd8452"/><circle cx="488.9" cy="127.2" r="1.35" fill="#dd8452"/><circle cx="490.6" cy="126.8" r="1.35" fill="#dd8452"/><circle cx="484.8" cy="128.9" r="1.35" fill="#dd8452"/><circle cx="486.5" cy="129.7" r="1.35" fill="#dd8452"/><circle cx="488.1" cy="130.5" r="1.35" fill="#dd8452"/><circle cx="483.2" cy="130.5" r="1.35" fill="#dd8452"/><circle cx="481.6" cy="131.3" r="1.35" fill="#dd8452"/><circle cx="479.9" cy="130.5" r="1.35" fill="#dd8452"/><circle cx="475.8" cy="130.5" r="1.35" fill="#dd8452"/><circle cx="476.6" cy="133.0" r="1.35" fill="#dd8452"/><circle cx="478.3" cy="132.1" r="1.35" fill="#dd8452"/><circle cx="477.5" cy="134.6" r="1.35" fill="#dd8452"/><circle cx="479.1" cy="135.4" r="1.35" fill="#dd8452"/><circle cx="476.6" cy="137.0" r="1.35" fill="#dd8452"/><circle cx="478.3" cy="137.9" r="1.35" fill="#dd8452"/><circle cx="479.9" cy="137.0" r="1.35" fill="#dd8452"/><circle cx="481.6" cy="137.9" r="1.35" fill="#dd8452"/><circle cx="482.4" cy="138.7" r="1.35" fill="#dd8452"/><circle cx="484.0" cy="136.2" r="1.35" fill="#dd8452"/><circle cx="485.7" cy="135.8" r="1.35" fill="#dd8452"/><circle cx="487.3" cy="133.8" r="1.35" fill="#dd8452"/><circle cx="488.9" cy="132.1" r="1.35" fill="#dd8452"/><circle cx="484.8" cy="133.8" r="1.35" fill="#dd8452"/><circle cx="480.7" cy="134.6" r="1.35" fill="#dd8452"/><circle cx="410.7" cy="173.2" r="1.35" fill="#58ab6a"/><circle cx="412.4" cy="168.3" r="1.35" fill="#58ab6a"/><circle cx="413.2" cy="167.5" r="1.35" fill="#58ab6a"/><circle cx="414.8" cy="166.2" r="1.35" fill="#58ab6a"/><circle cx="416.1" cy="165.0" r="1.35" fill="#58ab6a"/><circle cx="417.3" cy="164.6" r="1.35" fill="#58ab6a"/><circle cx="415.7" cy="170.3" r="1.35" fill="#58ab6a"/><circle cx="419.8" cy="167.0" r="1.35" fill="#58ab6a"/><circle cx="418.5" cy="163.4" r="1.35" fill="#58ab6a"/><circle cx="420.2" cy="163.0" r="1.35" fill="#58ab6a"/><circle cx="421.4" cy="161.7" r="1.35" fill="#58ab6a"/><circle cx="422.2" cy="160.9" r="1.35" fill="#58ab6a"/><circle cx="424.7" cy="155.2" r="1.35" fill="#58ab6a"/><circle cx="425.1" cy="156.8" r="1.35" fill="#58ab6a"/><circle cx="426.3" cy="157.6" r="1.35" fill="#58ab6a"/><circle cx="425.9" cy="159.3" r="1.35" fill="#58ab6a"/><circle cx="424.7" cy="161.3" r="1.35" fill="#58ab6a"/><circle cx="425.5" cy="163.0" r="1.35" fill="#58ab6a"/><circle cx="425.9" cy="165.8" r="1.35" fill="#58ab6a"/><circle cx="428.0" cy="164.2" r="1.35" fill="#58ab6a"/><circle cx="427.1" cy="160.5" r="1.35" fill="#58ab6a"/><circle cx="428.8" cy="153.9" r="1.35" fill="#58ab6a"/><circle cx="429.2" cy="156.4" r="1.35" fill="#58ab6a"/><circle cx="430.4" cy="155.6" r="1.35" fill="#58ab6a"/><circle cx="429.6" cy="158.9" r="1.35" fill="#58ab6a"/><circle cx="431.2" cy="157.2" r="1.35" fill="#58ab6a"/><circle cx="431.6" cy="159.7" r="1.35" fill="#58ab6a"/><circle cx="432.0" cy="162.1" r="1.35" fill="#58ab6a"/><circle cx="430.4" cy="163.8" r="1.35" fill="#58ab6a"/><circle cx="432.9" cy="155.6" r="1.35" fill="#58ab6a"/><circle cx="434.1" cy="154.3" r="1.35" fill="#58ab6a"/><circle cx="435.3" cy="153.1" r="1.35" fill="#58ab6a"/><circle cx="436.6" cy="151.5" r="1.35" fill="#58ab6a"/><circle cx="434.5" cy="157.6" r="1.35" fill="#58ab6a"/><circle cx="436.1" cy="156.4" r="1.35" fill="#58ab6a"/><circle cx="437.8" cy="155.6" r="1.35" fill="#58ab6a"/><circle cx="437.0" cy="158.9" r="1.35" fill="#58ab6a"/><circle cx="438.6" cy="157.6" r="1.35" fill="#58ab6a"/><circle cx="433.7" cy="160.5" r="1.35" fill="#58ab6a"/><circle cx="439.4" cy="152.3" r="1.35" fill="#58ab6a"/><circle cx="441.1" cy="150.7" r="1.35" fill="#58ab6a"/><circle cx="442.7" cy="146.1" r="1.35" fill="#58ab6a"/><circle cx="443.5" cy="149.8" r="1.35" fill="#58ab6a"/><circle cx="441.1" cy="154.8" r="1.35" fill="#58ab6a"/><circle cx="442.7" cy="156.4" r="1.35" fill="#58ab6a"/><circle cx="442.3" cy="159.3" r="1.35" fill="#58ab6a"/><circle cx="444.3" cy="153.5" r="1.35" fill="#58ab6a"/><circle cx="442.5" cy="146.3" r="1.35" fill="#58ab6a"/><circle cx="440.8" cy="150.4" r="1.35" fill="#58ab6a"/><circle cx="442.5" cy="152.0" r="1.35" fill="#58ab6a"/><circle cx="443.7" cy="155.3" r="1.35" fill="#58ab6a"/><circle cx="441.6" cy="157.4" r="1.35" fill="#58ab6a"/><circle cx="444.9" cy="157.0" r="1.35" fill="#58ab6a"/><circle cx="443.3" cy="158.6" r="1.35" fill="#58ab6a"/><circle cx="447.4" cy="150.4" r="1.35" fill="#58ab6a"/><circle cx="449.0" cy="148.8" r="1.35" fill="#58ab6a"/><circle cx="449.8" cy="147.1" r="1.35" fill="#58ab6a"/><circle cx="449.4" cy="152.0" r="1.35" fill="#58ab6a"/><circle cx="450.2" cy="153.7" r="1.35" fill="#58ab6a"/><circle cx="452.7" cy="153.3" r="1.35" fill="#58ab6a"/><circle cx="451.9" cy="149.6" r="1.35" fill="#58ab6a"/><circle cx="453.1" cy="147.1" r="1.35" fill="#58ab6a"/><circle cx="454.3" cy="145.5" r="1.35" fill="#58ab6a"/><circle cx="452.3" cy="143.4" r="1.35" fill="#58ab6a"/><circle cx="455.6" cy="150.4" r="1.35" fill="#58ab6a"/><circle cx="456.0" cy="148.0" r="1.35" fill="#58ab6a"/><circle cx="457.6" cy="143.0" r="1.35" fill="#58ab6a"/><circle cx="459.3" cy="141.8" r="1.35" fill="#58ab6a"/><circle cx="460.5" cy="144.7" r="1.35" fill="#58ab6a"/><circle cx="462.1" cy="145.9" r="1.35" fill="#58ab6a"/><circle cx="463.4" cy="146.7" r="1.35" fill="#58ab6a"/><circle cx="461.3" cy="141.4" r="1.35" fill="#58ab6a"/><circle cx="463.4" cy="140.6" r="1.35" fill="#58ab6a"/><circle cx="464.6" cy="142.2" r="1.35" fill="#58ab6a"/><circle cx="466.2" cy="143.4" r="1.35" fill="#58ab6a"/><circle cx="467.0" cy="144.7" r="1.35" fill="#58ab6a"/><circle cx="469.1" cy="133.2" r="1.35" fill="#58ab6a"/><circle cx="468.7" cy="138.9" r="1.35" fill="#58ab6a"/><circle cx="469.5" cy="139.8" r="1.35" fill="#58ab6a"/><circle cx="471.6" cy="141.8" r="1.35" fill="#58ab6a"/><circle cx="472.8" cy="142.2" r="1.35" fill="#58ab6a"/><circle cx="473.6" cy="137.3" r="1.35" fill="#58ab6a"/><circle cx="441.9" cy="146.1" r="1.35" fill="#58ab6a"/><circle cx="444.6" cy="149.7" r="1.35" fill="#58ab6a"/><circle cx="446.5" cy="148.4" r="1.35" fill="#58ab6a"/><circle cx="448.5" cy="147.7" r="1.35" fill="#58ab6a"/><circle cx="449.2" cy="151.7" r="1.35" fill="#58ab6a"/><circle cx="451.1" cy="150.4" r="1.35" fill="#58ab6a"/><circle cx="453.1" cy="153.0" r="1.35" fill="#58ab6a"/><circle cx="453.1" cy="148.4" r="1.35" fill="#58ab6a"/><circle cx="455.7" cy="151.0" r="1.35" fill="#58ab6a"/><circle cx="455.1" cy="147.1" r="1.35" fill="#58ab6a"/><circle cx="457.0" cy="141.8" r="1.35" fill="#58ab6a"/><circle cx="458.3" cy="143.2" r="1.35" fill="#58ab6a"/><circle cx="459.7" cy="144.5" r="1.35" fill="#58ab6a"/><circle cx="461.0" cy="145.1" r="1.35" fill="#58ab6a"/><circle cx="462.9" cy="146.4" r="1.35" fill="#58ab6a"/><circle cx="466.9" cy="143.8" r="1.35" fill="#58ab6a"/><circle cx="468.8" cy="141.8" r="1.35" fill="#58ab6a"/><circle cx="470.8" cy="141.2" r="1.35" fill="#58ab6a"/><circle cx="439.3" cy="151.7" r="1.35" fill="#58ab6a"/><circle cx="441.9" cy="153.7" r="1.35" fill="#58ab6a"/><circle cx="444.6" cy="156.3" r="1.35" fill="#58ab6a"/><circle cx="441.9" cy="158.2" r="1.35" fill="#58ab6a"/><circle cx="446.5" cy="153.7" r="1.35" fill="#58ab6a"/><circle cx="448.5" cy="153.0" r="1.35" fill="#58ab6a"/><circle cx="416.2" cy="164.9" r="1.35" fill="#58ab6a"/><circle cx="420.4" cy="164.4" r="1.35" fill="#58ab6a"/><circle cx="421.0" cy="160.7" r="1.35" fill="#58ab6a"/><circle cx="423.9" cy="153.8" r="1.35" fill="#58ab6a"/><circle cx="425.4" cy="161.8" r="1.35" fill="#58ab6a"/><circle cx="426.7" cy="164.5" r="1.35" fill="#58ab6a"/><circle cx="427.3" cy="165.5" r="1.35" fill="#58ab6a"/><circle cx="429.6" cy="165.3" r="1.35" fill="#58ab6a"/><circle cx="426.9" cy="160.5" r="1.35" fill="#58ab6a"/><circle cx="427.8" cy="153.3" r="1.35" fill="#58ab6a"/><circle cx="430.6" cy="155.4" r="1.35" fill="#58ab6a"/><circle cx="429.1" cy="159.3" r="1.35" fill="#58ab6a"/><circle cx="433.2" cy="160.6" r="1.35" fill="#58ab6a"/><circle cx="429.6" cy="162.3" r="1.35" fill="#58ab6a"/><circle cx="432.9" cy="154.1" r="1.35" fill="#58ab6a"/><circle cx="433.4" cy="158.9" r="1.35" fill="#58ab6a"/><circle cx="435.6" cy="159.5" r="1.35" fill="#58ab6a"/><circle cx="437.2" cy="159.0" r="1.35" fill="#58ab6a"/><circle cx="442.2" cy="149.3" r="1.35" fill="#58ab6a"/><circle cx="443.0" cy="150.0" r="1.35" fill="#58ab6a"/><circle cx="441.5" cy="156.5" r="1.35" fill="#58ab6a"/><circle cx="441.1" cy="158.2" r="1.35" fill="#58ab6a"/><circle cx="443.3" cy="152.9" r="1.35" fill="#58ab6a"/><circle cx="443.3" cy="145.6" r="1.35" fill="#58ab6a"/><circle cx="442.0" cy="150.5" r="1.35" fill="#58ab6a"/><circle cx="442.1" cy="156.0" r="1.35" fill="#58ab6a"/><circle cx="444.8" cy="158.4" r="1.35" fill="#58ab6a"/><circle cx="444.3" cy="158.4" r="1.35" fill="#58ab6a"/><circle cx="448.5" cy="150.1" r="1.35" fill="#58ab6a"/><circle cx="451.3" cy="154.4" r="1.35" fill="#58ab6a"/><circle cx="451.4" cy="148.2" r="1.35" fill="#58ab6a"/><circle cx="451.7" cy="147.9" r="1.35" fill="#58ab6a"/><circle cx="453.2" cy="144.2" r="1.35" fill="#58ab6a"/><circle cx="456.8" cy="142.3" r="1.35" fill="#58ab6a"/><circle cx="458.2" cy="141.6" r="1.35" fill="#58ab6a"/><circle cx="462.0" cy="146.2" r="1.35" fill="#58ab6a"/><circle cx="464.9" cy="146.1" r="1.35" fill="#58ab6a"/><circle cx="459.7" cy="141.0" r="1.35" fill="#58ab6a"/><circle cx="463.4" cy="139.6" r="1.35" fill="#58ab6a"/><circle cx="465.4" cy="142.1" r="1.35" fill="#58ab6a"/><circle cx="465.5" cy="143.2" r="1.35" fill="#58ab6a"/><circle cx="468.2" cy="133.5" r="1.35" fill="#58ab6a"/><circle cx="441.3" cy="147.7" r="1.35" fill="#58ab6a"/><circle cx="445.3" cy="150.2" r="1.35" fill="#58ab6a"/><circle cx="447.6" cy="149.7" r="1.35" fill="#58ab6a"/><circle cx="453.2" cy="153.0" r="1.35" fill="#58ab6a"/><circle cx="461.4" cy="145.2" r="1.35" fill="#58ab6a"/><circle cx="465.6" cy="144.9" r="1.35" fill="#58ab6a"/><circle cx="443.0" cy="157.3" r="1.35" fill="#58ab6a"/><line x1="395.69" y1="179.53" x2="669.41" y2="24.42" stroke="#111" stroke-width="1.5"/><text transform="translate(418.50 201.00) scale(0.9 1)" text-anchor="middle" font-size="9.2" fill="#2c2c2c">40</text><text transform="translate(464.12 201.00) scale(0.9 1)" text-anchor="middle" font-size="9.2" fill="#2c2c2c">60</text><text transform="translate(509.74 201.00) scale(0.9 1)" text-anchor="middle" font-size="9.2" fill="#2c2c2c">80</text><text transform="translate(555.36 201.00) scale(0.9 1)" text-anchor="middle" font-size="9.2" fill="#2c2c2c">100</text><text transform="translate(600.98 201.00) scale(0.9 1)" text-anchor="middle" font-size="9.2" fill="#2c2c2c">120</text><text transform="translate(646.60 201.00) scale(0.9 1)" text-anchor="middle" font-size="9.2" fill="#2c2c2c">140</text><text transform="translate(375.00 170.00) scale(0.9 1)" text-anchor="end" font-size="9.2" fill="#2c2c2c">40</text><text transform="translate(375.00 144.15) scale(0.9 1)" text-anchor="end" font-size="9.2" fill="#2c2c2c">60</text><text transform="translate(375.00 118.30) scale(0.9 1)" text-anchor="end" font-size="9.2" fill="#2c2c2c">80</text><text transform="translate(375.00 92.45) scale(0.9 1)" text-anchor="end" font-size="9.2" fill="#2c2c2c">100</text><text transform="translate(375.00 66.60) scale(0.9 1)" text-anchor="end" font-size="9.2" fill="#2c2c2c">120</text><text transform="translate(375.00 40.75) scale(0.9 1)" text-anchor="end" font-size="9.2" fill="#2c2c2c">140</text><text x="533.00" y="213.30" text-anchor="middle" font-size="10.9" fill="#1a1a1a">CECT manual axes (mm)</text><text transform="translate(355.00,102.15) rotate(-90)" text-anchor="middle" font-size="10.8" fill="#1a1a1a">NCCT manual axes (mm)</text><text x="361.2" y="10.6" font-size="12.8" letter-spacing="0.1" fill="#1e1e2e" stroke="#1e1e2e" stroke-width="0.3">(a2)</text><rect x="386.5" y="21.5" width="75" height="41" rx="2.5" fill="#fff" fill-opacity="0.97" stroke="#dadada" stroke-width="1"/><circle cx="399.6" cy="29.10" r="1.7" fill="#4a6cbc"/><text x="416.5" y="31.90" font-size="9" fill="#333">Length</text><circle cx="399.6" cy="42.20" r="1.7" fill="#dd8452"/><text x="416.5" y="45.00" font-size="9" fill="#333">Width</text><circle cx="399.6" cy="55.30" r="1.7" fill="#58ab6a"/><text x="416.5" y="58.10" font-size="9" fill="#333">Thickness</text></g><g font-family="'Liberation Sans', sans-serif"><line x1="39.90" y1="226.6" x2="39.90" y2="397.3" stroke="#dcdcdc" stroke-width="1"/><line x1="80.30" y1="226.6" x2="80.30" y2="397.3" stroke="#dcdcdc" stroke-width="1"/><line x1="120.70" y1="226.6" x2="120.70" y2="397.3" stroke="#dcdcdc" stroke-width="1"/><line x1="161.10" y1="226.6" x2="161.10" y2="397.3" stroke="#dcdcdc" stroke-width="1"/><line x1="201.50" y1="226.6" x2="201.50" y2="397.3" stroke="#dcdcdc" stroke-width="1"/><line x1="241.90" y1="226.6" x2="241.90" y2="397.3" stroke="#dcdcdc" stroke-width="1"/><line x1="282.30" y1="226.6" x2="282.30" y2="397.3" stroke="#dcdcdc" stroke-width="1"/><line x1="322.70" y1="226.6" x2="322.70" y2="397.3" stroke="#dcdcdc" stroke-width="1"/><line x1="36.5" y1="394.50" x2="336.5" y2="394.50" stroke="#dcdcdc" stroke-width="1"/><line x1="36.5" y1="371.61" x2="336.5" y2="371.61" stroke="#dcdcdc" stroke-width="1"/><line x1="36.5" y1="348.73" x2="336.5" y2="348.73" stroke="#dcdcdc" stroke-width="1"/><line x1="36.5" y1="325.84" x2="336.5" y2="325.84" stroke="#dcdcdc" stroke-width="1"/><line x1="36.5" y1="302.96" x2="336.5" y2="302.96" stroke="#dcdcdc" stroke-width="1"/><line x1="36.5" y1="280.07" x2="336.5" y2="280.07" stroke="#dcdcdc" stroke-width="1"/><line x1="36.5" y1="257.18" x2="336.5" y2="257.18" stroke="#dcdcdc" stroke-width="1"/><line x1="36.5" y1="234.30" x2="336.5" y2="234.30" stroke="#dcdcdc" stroke-width="1"/><rect x="36.5" y="226.6" width="300.00" height="170.70" fill="none" stroke="#dcdcdc" stroke-width="1.1"/><circle cx="87.0" cy="369.8" r="1.75" fill="#4a6cbc"/><circle cx="86.4" cy="372.8" r="1.75" fill="#4a6cbc"/><circle cx="118.2" cy="349.4" r="1.75" fill="#4a6cbc"/><circle cx="117.0" cy="354.1" r="1.75" fill="#4a6cbc"/><circle cx="122.8" cy="354.7" r="1.75" fill="#4a6cbc"/><circle cx="130.1" cy="348.0" r="1.75" fill="#4a6cbc"/><circle cx="151.9" cy="338.1" r="1.75" fill="#4a6cbc"/><circle cx="152.3" cy="339.4" r="1.75" fill="#4a6cbc"/><circle cx="150.5" cy="345.9" r="1.75" fill="#4a6cbc"/><circle cx="151.7" cy="325.4" r="1.75" fill="#4a6cbc"/><circle cx="160.8" cy="323.1" r="1.75" fill="#4a6cbc"/><circle cx="157.5" cy="327.4" r="1.75" fill="#4a6cbc"/><circle cx="158.0" cy="328.5" r="1.75" fill="#4a6cbc"/><circle cx="164.7" cy="329.4" r="1.75" fill="#4a6cbc"/><circle cx="161.7" cy="314.6" r="1.75" fill="#4a6cbc"/><circle cx="166.4" cy="317.2" r="1.75" fill="#4a6cbc"/><circle cx="169.8" cy="320.2" r="1.75" fill="#4a6cbc"/><circle cx="171.7" cy="322.8" r="1.75" fill="#4a6cbc"/><circle cx="180.3" cy="301.4" r="1.75" fill="#4a6cbc"/><circle cx="185.2" cy="307.3" r="1.75" fill="#4a6cbc"/><circle cx="183.6" cy="310.6" r="1.75" fill="#4a6cbc"/><circle cx="177.5" cy="311.4" r="1.75" fill="#4a6cbc"/><circle cx="178.9" cy="312.3" r="1.75" fill="#4a6cbc"/><circle cx="182.0" cy="313.2" r="1.75" fill="#4a6cbc"/><circle cx="192.6" cy="309.4" r="1.75" fill="#4a6cbc"/><circle cx="181.7" cy="319.5" r="1.75" fill="#4a6cbc"/><circle cx="226.4" cy="296.9" r="1.75" fill="#4a6cbc"/><circle cx="206.7" cy="318.2" r="1.75" fill="#4a6cbc"/><circle cx="242.0" cy="269.4" r="1.75" fill="#4a6cbc"/><circle cx="249.0" cy="287.3" r="1.75" fill="#4a6cbc"/><circle cx="288.4" cy="251.2" r="1.75" fill="#4a6cbc"/><circle cx="305.6" cy="244.7" r="1.75" fill="#4a6cbc"/><line x1="50.00" y1="388.78" x2="322.70" y2="234.30" stroke="#444" stroke-width="1.0"/><text transform="translate(39.90 411.00) scale(0.9 1)" text-anchor="middle" font-size="9.2" fill="#2c2c2c">80</text><text transform="translate(80.30 411.00) scale(0.9 1)" text-anchor="middle" font-size="9.2" fill="#2c2c2c">100</text><text transform="translate(120.70 411.00) scale(0.9 1)" text-anchor="middle" font-size="9.2" fill="#2c2c2c">120</text><text transform="translate(161.10 411.00) scale(0.9 1)" text-anchor="middle" font-size="9.2" fill="#2c2c2c">140</text><text transform="translate(201.50 411.00) scale(0.9 1)" text-anchor="middle" font-size="9.2" fill="#2c2c2c">160</text><text transform="translate(241.90 411.00) scale(0.9 1)" text-anchor="middle" font-size="9.2" fill="#2c2c2c">180</text><text transform="translate(282.30 411.00) scale(0.9 1)" text-anchor="middle" font-size="9.2" fill="#2c2c2c">200</text><text transform="translate(322.70 411.00) scale(0.9 1)" text-anchor="middle" font-size="9.2" fill="#2c2c2c">220</text><text transform="translate(28.50 397.90) scale(0.9 1)" text-anchor="end" font-size="9.2" fill="#2c2c2c">80</text><text transform="translate(28.50 375.01) scale(0.9 1)" text-anchor="end" font-size="9.2" fill="#2c2c2c">100</text><text transform="translate(28.50 352.13) scale(0.9 1)" text-anchor="end" font-size="9.2" fill="#2c2c2c">120</text><text transform="translate(28.50 329.24) scale(0.9 1)" text-anchor="end" font-size="9.2" fill="#2c2c2c">140</text><text transform="translate(28.50 306.36) scale(0.9 1)" text-anchor="end" font-size="9.2" fill="#2c2c2c">160</text><text transform="translate(28.50 283.47) scale(0.9 1)" text-anchor="end" font-size="9.2" fill="#2c2c2c">180</text><text transform="translate(28.50 260.58) scale(0.9 1)" text-anchor="end" font-size="9.2" fill="#2c2c2c">200</text><text transform="translate(28.50 237.70) scale(0.9 1)" text-anchor="end" font-size="9.2" fill="#2c2c2c">220</text><text x="186.50" y="423.30" text-anchor="middle" font-size="10.9" fill="#1a1a1a">CECT model volume (mL)</text><text transform="translate(8.50,311.95) rotate(-90)" text-anchor="middle" font-size="10.8" fill="#1a1a1a">NCCT model volume (mL)</text><text x="13.5" y="220.9" font-size="12.8" letter-spacing="0.1" fill="#1e1e2e" stroke="#1e1e2e" stroke-width="0.3">(b1)</text></g><g font-family="'Liberation Sans', sans-serif"><line x1="420.80" y1="227.4" x2="420.80" y2="397.6" stroke="#dcdcdc" stroke-width="1"/><line x1="470.60" y1="227.4" x2="470.60" y2="397.6" stroke="#dcdcdc" stroke-width="1"/><line x1="520.40" y1="227.4" x2="520.40" y2="397.6" stroke="#dcdcdc" stroke-width="1"/><line x1="570.20" y1="227.4" x2="570.20" y2="397.6" stroke="#dcdcdc" stroke-width="1"/><line x1="620.00" y1="227.4" x2="620.00" y2="397.6" stroke="#dcdcdc" stroke-width="1"/><line x1="669.80" y1="227.4" x2="669.80" y2="397.6" stroke="#dcdcdc" stroke-width="1"/><line x1="382.6" y1="375.40" x2="683.0" y2="375.40" stroke="#dcdcdc" stroke-width="1"/><line x1="382.6" y1="347.30" x2="683.0" y2="347.30" stroke="#dcdcdc" stroke-width="1"/><line x1="382.6" y1="319.20" x2="683.0" y2="319.20" stroke="#dcdcdc" stroke-width="1"/><line x1="382.6" y1="291.10" x2="683.0" y2="291.10" stroke="#dcdcdc" stroke-width="1"/><line x1="382.6" y1="263.00" x2="683.0" y2="263.00" stroke="#dcdcdc" stroke-width="1"/><line x1="382.6" y1="234.90" x2="683.0" y2="234.90" stroke="#dcdcdc" stroke-width="1"/><rect x="382.6" y="227.4" width="300.40" height="170.20" fill="none" stroke="#dcdcdc" stroke-width="1.1"/><circle cx="568.6" cy="291.4" r="1.75" fill="#4a6cbc"/><circle cx="571.4" cy="282.5" r="1.75" fill="#4a6cbc"/><circle cx="577.3" cy="281.4" r="1.75" fill="#4a6cbc"/><circle cx="580.1" cy="285.3" r="1.75" fill="#4a6cbc"/><circle cx="585.5" cy="280.1" r="1.75" fill="#4a6cbc"/><circle cx="587.3" cy="281.1" r="1.75" fill="#4a6cbc"/><circle cx="596.2" cy="273.6" r="1.75" fill="#4a6cbc"/><circle cx="598.1" cy="274.5" r="1.75" fill="#4a6cbc"/><circle cx="598.6" cy="268.6" r="1.75" fill="#4a6cbc"/><circle cx="601.0" cy="276.3" r="1.75" fill="#4a6cbc"/><circle cx="603.6" cy="271.3" r="1.75" fill="#4a6cbc"/><circle cx="606.4" cy="271.0" r="1.75" fill="#4a6cbc"/><circle cx="607.6" cy="268.1" r="1.75" fill="#4a6cbc"/><circle cx="608.3" cy="276.1" r="1.75" fill="#4a6cbc"/><circle cx="610.4" cy="261.9" r="1.75" fill="#4a6cbc"/><circle cx="612.5" cy="259.4" r="1.75" fill="#4a6cbc"/><circle cx="614.2" cy="265.2" r="1.75" fill="#4a6cbc"/><circle cx="620.2" cy="259.1" r="1.75" fill="#4a6cbc"/><circle cx="620.6" cy="261.1" r="1.75" fill="#4a6cbc"/><circle cx="620.2" cy="267.1" r="1.75" fill="#4a6cbc"/><circle cx="627.1" cy="254.8" r="1.75" fill="#4a6cbc"/><circle cx="627.1" cy="259.4" r="1.75" fill="#4a6cbc"/><circle cx="633.0" cy="252.9" r="1.75" fill="#4a6cbc"/><circle cx="636.3" cy="247.1" r="1.75" fill="#4a6cbc"/><circle cx="641.2" cy="247.5" r="1.75" fill="#4a6cbc"/><circle cx="644.5" cy="246.5" r="1.75" fill="#4a6cbc"/><circle cx="646.8" cy="240.7" r="1.75" fill="#4a6cbc"/><circle cx="473.2" cy="347.8" r="1.75" fill="#dd8452"/><circle cx="477.0" cy="349.9" r="1.75" fill="#dd8452"/><circle cx="477.7" cy="340.8" r="1.75" fill="#dd8452"/><circle cx="479.1" cy="340.3" r="1.75" fill="#dd8452"/><circle cx="480.9" cy="338.9" r="1.75" fill="#dd8452"/><circle cx="481.9" cy="339.8" r="1.75" fill="#dd8452"/><circle cx="478.1" cy="343.1" r="1.75" fill="#dd8452"/><circle cx="480.0" cy="342.2" r="1.75" fill="#dd8452"/><circle cx="480.5" cy="345.0" r="1.75" fill="#dd8452"/><circle cx="482.3" cy="342.6" r="1.75" fill="#dd8452"/><circle cx="483.7" cy="342.6" r="1.75" fill="#dd8452"/><circle cx="478.1" cy="345.5" r="1.75" fill="#dd8452"/><circle cx="485.1" cy="336.6" r="1.75" fill="#dd8452"/><circle cx="486.1" cy="335.2" r="1.75" fill="#dd8452"/><circle cx="487.5" cy="333.3" r="1.75" fill="#dd8452"/><circle cx="488.4" cy="335.2" r="1.75" fill="#dd8452"/><circle cx="489.8" cy="334.2" r="1.75" fill="#dd8452"/><circle cx="486.6" cy="337.5" r="1.75" fill="#dd8452"/><circle cx="489.2" cy="340.8" r="1.75" fill="#dd8452"/><circle cx="491.7" cy="336.6" r="1.75" fill="#dd8452"/><circle cx="493.1" cy="337.5" r="1.75" fill="#dd8452"/><circle cx="494.8" cy="338.0" r="1.75" fill="#dd8452"/><circle cx="494.1" cy="333.3" r="1.75" fill="#dd8452"/><circle cx="495.5" cy="332.8" r="1.75" fill="#dd8452"/><circle cx="496.9" cy="332.8" r="1.75" fill="#dd8452"/><circle cx="497.8" cy="328.1" r="1.75" fill="#dd8452"/><circle cx="498.3" cy="330.0" r="1.75" fill="#dd8452"/><circle cx="499.7" cy="330.5" r="1.75" fill="#dd8452"/><circle cx="502.5" cy="331.9" r="1.75" fill="#dd8452"/><circle cx="509.0" cy="324.4" r="1.75" fill="#dd8452"/><circle cx="510.9" cy="324.1" r="1.75" fill="#dd8452"/><circle cx="512.3" cy="323.9" r="1.75" fill="#dd8452"/><circle cx="411.7" cy="383.7" r="1.75" fill="#58ab6a"/><circle cx="421.7" cy="376.2" r="1.75" fill="#58ab6a"/><circle cx="423.3" cy="372.3" r="1.75" fill="#58ab6a"/><circle cx="428.7" cy="372.3" r="1.75" fill="#58ab6a"/><circle cx="430.6" cy="372.0" r="1.75" fill="#58ab6a"/><circle cx="432.3" cy="363.3" r="1.75" fill="#58ab6a"/><circle cx="437.5" cy="363.3" r="1.75" fill="#58ab6a"/><circle cx="434.4" cy="366.9" r="1.75" fill="#58ab6a"/><circle cx="436.2" cy="367.8" r="1.75" fill="#58ab6a"/><circle cx="438.1" cy="367.8" r="1.75" fill="#58ab6a"/><circle cx="435.3" cy="369.2" r="1.75" fill="#58ab6a"/><circle cx="443.2" cy="363.6" r="1.75" fill="#58ab6a"/><circle cx="444.2" cy="362.5" r="1.75" fill="#58ab6a"/><circle cx="446.4" cy="366.7" r="1.75" fill="#58ab6a"/><circle cx="447.8" cy="357.3" r="1.75" fill="#58ab6a"/><circle cx="448.3" cy="358.7" r="1.75" fill="#58ab6a"/><circle cx="448.7" cy="361.6" r="1.75" fill="#58ab6a"/><circle cx="446.9" cy="360.1" r="1.75" fill="#58ab6a"/><circle cx="453.4" cy="360.8" r="1.75" fill="#58ab6a"/><circle cx="456.2" cy="354.5" r="1.75" fill="#58ab6a"/><circle cx="457.6" cy="358.0" r="1.75" fill="#58ab6a"/><circle cx="458.6" cy="350.3" r="1.75" fill="#58ab6a"/><circle cx="460.0" cy="351.7" r="1.75" fill="#58ab6a"/><circle cx="460.9" cy="351.2" r="1.75" fill="#58ab6a"/><circle cx="461.9" cy="355.5" r="1.75" fill="#58ab6a"/><circle cx="462.8" cy="355.9" r="1.75" fill="#58ab6a"/><circle cx="466.4" cy="350.8" r="1.75" fill="#58ab6a"/><line x1="395.90" y1="389.45" x2="669.80" y2="234.90" stroke="#444" stroke-width="1.0"/><text transform="translate(420.80 411.30) scale(0.9 1)" text-anchor="middle" font-size="9.2" fill="#2c2c2c">40</text><text transform="translate(470.60 411.30) scale(0.9 1)" text-anchor="middle" font-size="9.2" fill="#2c2c2c">60</text><text transform="translate(520.40 411.30) scale(0.9 1)" text-anchor="middle" font-size="9.2" fill="#2c2c2c">80</text><text transform="translate(570.20 411.30) scale(0.9 1)" text-anchor="middle" font-size="9.2" fill="#2c2c2c">100</text><text transform="translate(620.00 411.30) scale(0.9 1)" text-anchor="middle" font-size="9.2" fill="#2c2c2c">120</text><text transform="translate(669.80 411.30) scale(0.9 1)" text-anchor="middle" font-size="9.2" fill="#2c2c2c">140</text><text transform="translate(374.60 378.80) scale(0.9 1)" text-anchor="end" font-size="9.2" fill="#2c2c2c">40</text><text transform="translate(374.60 350.70) scale(0.9 1)" text-anchor="end" font-size="9.2" fill="#2c2c2c">60</text><text transform="translate(374.60 322.60) scale(0.9 1)" text-anchor="end" font-size="9.2" fill="#2c2c2c">80</text><text transform="translate(374.60 294.50) scale(0.9 1)" text-anchor="end" font-size="9.2" fill="#2c2c2c">100</text><text transform="translate(374.60 266.40) scale(0.9 1)" text-anchor="end" font-size="9.2" fill="#2c2c2c">120</text><text transform="translate(374.60 238.30) scale(0.9 1)" text-anchor="end" font-size="9.2" fill="#2c2c2c">140</text><text x="532.80" y="423.60" text-anchor="middle" font-size="10.9" fill="#1a1a1a">CECT model axes (mm)</text><text transform="translate(354.60,312.50) rotate(-90)" text-anchor="middle" font-size="10.8" fill="#1a1a1a">NCCT model axes (mm)</text><text x="360.8" y="220.9" font-size="12.8" letter-spacing="0.1" fill="#1e1e2e" stroke="#1e1e2e" stroke-width="0.3">(b2)</text><rect x="386.5" y="232.0" width="75" height="41" rx="2.5" fill="#fff" fill-opacity="0.97" stroke="#dadada" stroke-width="1"/><circle cx="399.6" cy="239.60" r="1.7" fill="#4a6cbc"/><text x="416.5" y="242.40" font-size="9" fill="#333">Length</text><circle cx="399.6" cy="252.70" r="1.7" fill="#dd8452"/><text x="416.5" y="255.50" font-size="9" fill="#333">Width</text><circle cx="399.6" cy="265.80" r="1.7" fill="#58ab6a"/><text x="416.5" y="268.60" font-size="9" fill="#333">Thickness</text></g></svg></body></html>
